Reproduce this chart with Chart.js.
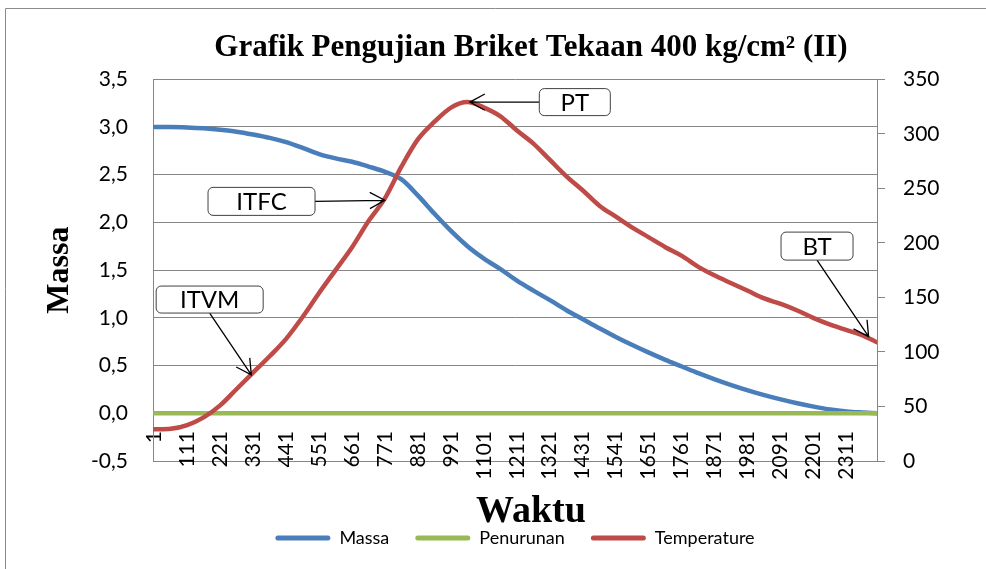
<!DOCTYPE html>
<html>
<head>
<meta charset="utf-8">
<title>Grafik Pengujian Briket Tekaan 400 kg/cm² (II)</title>
<script src="https://cdn.jsdelivr.net/npm/chart.js@4.4.1/dist/chart.umd.min.js"></script>
<style>
  html, body { margin: 0; padding: 0; background: #fff; }
  #chart { display: block; }
</style>
</head>
<body>
<canvas id="chart" width="986" height="569"></canvas>
<script>
const chartTitle = "Grafik Pengujian Briket Tekaan 400 kg/cm² (II)";
const xTitle = "Waktu";
const yTitle = "Massa";

// sample points (time index)
const waktu = [1, 56, 111, 166, 221, 276, 331, 386, 441, 496, 551, 606, 661, 716, 771,
  826, 881, 936, 991, 1046, 1101, 1156, 1211, 1266, 1321, 1376, 1431, 1486, 1541, 1596,
  1651, 1706, 1761, 1816, 1871, 1926, 1981, 2036, 2091, 2146, 2201, 2256, 2311, 2366, 2410];

const massa = [3.00, 3.00, 2.995, 2.985, 2.97, 2.95, 2.92, 2.885, 2.84, 2.78, 2.715, 2.67, 2.635, 2.585, 2.53,
  2.45, 2.28, 2.09, 1.91, 1.75, 1.62, 1.51, 1.39, 1.285, 1.185, 1.08, 0.985, 0.89, 0.80, 0.715,
  0.635, 0.56, 0.49, 0.42, 0.355, 0.295, 0.24, 0.19, 0.145, 0.105, 0.07, 0.04, 0.02, 0.008, 0.0];

const penurunan = [0, 0, 0, 0, 0, 0, 0, 0, 0, 0, 0, 0, 0, 0, 0,
  0, 0, 0, 0, 0, 0, 0, 0, 0, 0, 0, 0, 0, 0, 0,
  0, 0, 0, 0, 0, 0, 0, 0, 0, 0, 0, 0, 0, 0, 0];

const temperature = [29, 29.5, 33, 40, 51, 66, 81, 96, 112, 132, 154, 175, 196, 220, 241,
  270, 295, 311, 324, 329, 324, 316, 303, 291, 276, 261, 248, 234, 224, 214,
  205, 196, 188, 178, 170, 163, 156, 149, 144, 138, 131, 125, 120, 115, 109];

const waktuTicks = [1, 111, 221, 331, 441, 551, 661, 771, 881, 991, 1101, 1211, 1321,
  1431, 1541, 1651, 1761, 1871, 1981, 2091, 2201, 2311];

const seriesNames = ["Massa", "Penurunan", "Temperature"];
const seriesColors = ["#4A7EBB", "#98B954", "#BE4B48"];

// callouts: box centre and arrow tip in (waktu, temperature) units
const callouts = [
  { text: "ITVM", box: [186, 148], tip: [325, 79], w: 107, h: 27, from: "bottom" },
  { text: "ITFC", box: [359, 238], tip: [770, 239], w: 107, h: 28, from: "right" },
  { text: "PT", box: [1404, 329], tip: [1054, 329], w: 71, h: 27, from: "left" },
  { text: "BT", box: [2212, 197], tip: [2384, 114], w: 72, h: 28, from: "bottom" }
];

const gridColor = "#868686";
const tickFont = { family: "Lato", size: 21 };
const serifBold = "Liberation Serif";

function commaDecimal(v) {
  return v.toFixed(1).replace(".", ",");
}

const chartFrame = {
  id: "chartFrame",
  beforeDraw(chart) {
    const ctx = chart.ctx;
    ctx.save();
    ctx.fillStyle = "#fff";
    ctx.fillRect(0, 0, chart.width, chart.height);
    ctx.strokeStyle = "#8c8c8c";
    ctx.lineWidth = 1;
    ctx.beginPath();
    ctx.moveTo(5.5, chart.height);
    ctx.lineTo(5.5, 8.5);
    ctx.lineTo(chart.width, 8.5);
    ctx.stroke();
    ctx.restore();
  }
};

function drawArrow(ctx, x0, y0, x1, y1) {
  const ang = Math.atan2(y1 - y0, x1 - x0);
  const len = 17;
  ctx.beginPath();
  ctx.moveTo(x0, y0);
  ctx.lineTo(x1, y1);
  ctx.moveTo(x1 - len * Math.cos(ang - 0.5), y1 - len * Math.sin(ang - 0.5));
  ctx.lineTo(x1, y1);
  ctx.lineTo(x1 - len * Math.cos(ang + 0.5), y1 - len * Math.sin(ang + 0.5));
  ctx.stroke();
}

const calloutPlugin = {
  id: "callouts",
  afterDatasetsDraw(chart) {
    const ctx = chart.ctx;
    const xs = chart.scales.x;
    const ys = chart.scales.y1;
    ctx.save();
    callouts.forEach(c => {
      const bx = xs.getPixelForValue(c.box[0]);
      const by = ys.getPixelForValue(c.box[1]);
      const tx = xs.getPixelForValue(c.tip[0]);
      const ty = ys.getPixelForValue(c.tip[1]);
      let sx = bx, sy = by;
      if (c.from === "bottom") sy = by + c.h / 2;
      if (c.from === "right") sx = bx + c.w / 2;
      if (c.from === "left") sx = bx - c.w / 2;

      ctx.strokeStyle = "#000";
      ctx.lineWidth = 1.3;
      drawArrow(ctx, sx, sy, tx, ty);

      ctx.beginPath();
      ctx.roundRect(bx - c.w / 2, by - c.h / 2, c.w, c.h, 5);
      ctx.fillStyle = "#fff";
      ctx.fill();
      ctx.strokeStyle = "#404040";
      ctx.lineWidth = 1;
      ctx.stroke();

      ctx.fillStyle = "#000";
      ctx.font = "24px Lato";
      ctx.textAlign = "center";
      ctx.textBaseline = "middle";
      ctx.fillText(c.text, bx, by + 1);
    });
    ctx.restore();
  }
};

function makeSeries(values) {
  return waktu.map((t, i) => ({ x: t, y: values[i] }));
}

const ctx = document.getElementById("chart");

new Chart(ctx, {
  type: "line",
  data: {
    datasets: [
      { label: seriesNames[0], data: makeSeries(massa), yAxisID: "y", order: 2 },
      { label: seriesNames[1], data: makeSeries(penurunan), yAxisID: "y", order: 1 },
      { label: seriesNames[2], data: makeSeries(temperature), yAxisID: "y1", order: 0 }
    ].map((ds, i) => ({
      ...ds,
      borderColor: seriesColors[i],
      backgroundColor: seriesColors[i],
      borderWidth: 4.5,
      borderCapStyle: "round",
      pointRadius: 0,
      cubicInterpolationMode: "monotone"
    }))
  },
  options: {
    responsive: false,
    animation: false,
    layout: {
      // left padding shifts full-width titles to the centre used in the picture
      padding: { top: 0, left: 76, right: 0, bottom: 12 }
    },
    plugins: {
      tooltip: { enabled: false },
      title: {
        display: true,
        text: chartTitle,
        color: "#000",
        font: { family: serifBold, size: 31, weight: "bold" },
        padding: { top: 29, bottom: 13 }
      },
      subtitle: {
        display: true,
        position: "bottom",
        weight: 500,
        text: xTitle,
        color: "#000",
        font: { family: serifBold, size: 38, weight: "bold", lineHeight: 1 },
        padding: { top: 32, bottom: -28 }
      },
      legend: {
        position: "bottom",
        fullSize: false,
        labels: {
          font: { family: "Lato", size: 18 },
          color: "#000",
          boxWidth: 55,
          boxHeight: 5,
          padding: 26,
          generateLabels: chart => chart.data.datasets.map((ds, i) => ({
            text: ds.label,
            fillStyle: ds.borderColor,
            strokeStyle: ds.borderColor,
            lineWidth: 0,
            borderRadius: 2.5,
            hidden: false,
            datasetIndex: i
          }))
        }
      }
    },
    scales: {
      x: {
        type: "linear",
        position: "bottom",
        min: -3,
        max: 2412,
        afterBuildTicks: scale => {
          scale.ticks = waktuTicks.map(v => ({ value: v }));
        },
        afterFit: scale => {
          scale.height = 0;
        },
        grid: { display: false, drawTicks: false, tickLength: 0 },
        border: { display: false },
        // labels hang from just under the 0,0 line, as in the picture
        ticks: {
          autoSkip: false,
          minRotation: 90,
          maxRotation: 90,
          mirror: true,
          padding: 30,
          labelOffset: 25,
          color: "#000",
          font: tickFont,
          callback: v => String(v)
        }
      },
      y: {
        position: "left",
        min: -0.5,
        max: 3.5,
        afterFit: scale => {
          scale.width = 77;
        },
        title: {
          display: true,
          text: yTitle,
          color: "#000",
          font: { family: serifBold, size: 32, weight: "bold" },
          padding: { top: -35, bottom: 0 }
        },
        grid: { color: gridColor, drawTicks: false },
        border: { color: gridColor },
        ticks: {
          stepSize: 0.5,
          padding: 25,
          color: "#000",
          font: tickFont,
          callback: v => commaDecimal(v)
        }
      },
      y1: {
        position: "right",
        min: 0,
        max: 350,
        afterFit: scale => {
          scale.width = 109;
        },
        grid: { drawOnChartArea: false, color: gridColor, tickLength: 8 },
        border: { color: gridColor },
        ticks: {
          stepSize: 50,
          padding: 18,
          color: "#000",
          font: tickFont
        }
      }
    }
  },
  plugins: [chartFrame, calloutPlugin]
});
</script>
</body>
</html>
